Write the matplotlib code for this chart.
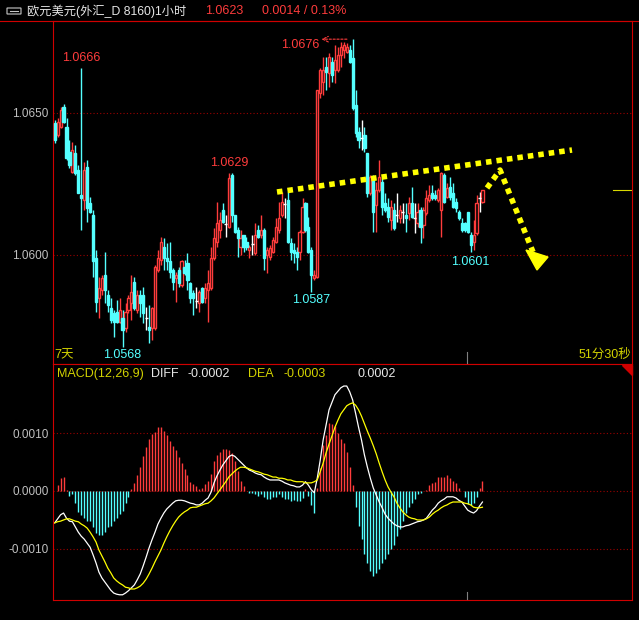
import numpy as np
import matplotlib
matplotlib.use("Agg")
import matplotlib.pyplot as plt
from matplotlib.lines import Line2D
from matplotlib.patches import Polygon, FancyBboxPatch

plt.rcParams['font.family'] = ['Liberation Sans', 'Noto Sans CJK SC', 'DejaVu Sans']

# EUR/USD 1h candles
open_ = [1.06464, 1.06423, 1.06452, 1.06522, 1.06452, 1.06364, 1.06293, 1.06358, 1.06299, 1.06211,
         1.06194, 1.06311, 1.06182, 1.06141, 1.05988, 1.05847, 1.05877, 1.05930, 1.05859, 1.05812,
         1.05795, 1.05800, 1.05765, 1.05777, 1.05742, 1.05806, 1.05830, 1.05906, 1.05806, 1.05859,
         1.05859, 1.05777, 1.05748, 1.05742, 1.05742, 1.05947, 1.05982, 1.06029, 1.05988, 1.05977,
         1.05947, 1.05918, 1.05947, 1.05894, 1.05959, 1.05971, 1.05900, 1.05865, 1.05839, 1.05830,
         1.05883, 1.05847, 1.05877, 1.05883, 1.05988, 1.06047, 1.06088, 1.06158, 1.06109, 1.06100,
         1.06282, 1.06141, 1.06088, 1.06029, 1.06070, 1.06047, 1.06018, 1.06039, 1.06006, 1.06088,
         1.06070, 1.06088, 1.06000, 1.05994, 1.06012, 1.06047, 1.06088, 1.06141, 1.06180, 1.06194,
         1.06041, 1.06018, 1.06012, 1.06012, 1.06082, 1.06182, 1.06100, 1.06018, 1.05918, 1.05924,
         1.06569, 1.06610, 1.06663, 1.06640, 1.06681, 1.06651, 1.06651, 1.06704, 1.06722, 1.06716,
         1.06722, 1.06692, 1.06528, 1.06434, 1.06411, 1.06423, 1.06358, 1.06217, 1.06270, 1.06176,
         1.06229, 1.06258, 1.06182, 1.06170, 1.06123, 1.06158, 1.06140, 1.06129, 1.06153, 1.06141,
         1.06147, 1.06182, 1.06129, 1.06112, 1.06158, 1.06106, 1.06147, 1.06194, 1.06217, 1.06211,
         1.06194, 1.06158, 1.06282, 1.06205, 1.06241, 1.06217, 1.06188, 1.06153, 1.06112, 1.06112,
         1.06153, 1.06070, 1.06047, 1.06076, 1.06200, 1.06188]
high = [1.06475, 1.06481, 1.06522, 1.06532, 1.06481, 1.06405, 1.06399, 1.06387, 1.06317, 1.06660,
        1.06329, 1.06335, 1.06205, 1.06158, 1.06018, 1.05924, 1.05930, 1.06012, 1.05877, 1.05847,
        1.05806, 1.05842, 1.05847, 1.05806, 1.05830, 1.05859, 1.05930, 1.05924, 1.05877, 1.05877,
        1.05888, 1.05818, 1.05824, 1.05818, 1.05965, 1.06018, 1.06065, 1.06059, 1.06041, 1.06047,
        1.05953, 1.05941, 1.05959, 1.05982, 1.05982, 1.06006, 1.05906, 1.05877, 1.05888, 1.05877,
        1.05888, 1.05900, 1.05947, 1.06029, 1.06094, 1.06188, 1.06153, 1.06182, 1.06141, 1.06288,
        1.06288, 1.06141, 1.06100, 1.06088, 1.06070, 1.06065, 1.06035, 1.06070, 1.06112, 1.06106,
        1.06141, 1.06094, 1.06029, 1.06035, 1.06065, 1.06129, 1.06188, 1.06223, 1.06200, 1.06223,
        1.06059, 1.06041, 1.06029, 1.06088, 1.06200, 1.06188, 1.06135, 1.06029, 1.05947, 1.06581,
        1.06657, 1.06698, 1.06698, 1.06710, 1.06698, 1.06739, 1.06734, 1.06751, 1.06751, 1.06745,
        1.06739, 1.06760, 1.06581, 1.06452, 1.06475, 1.06452, 1.06358, 1.06282, 1.06282, 1.06258,
        1.06335, 1.06270, 1.06217, 1.06200, 1.06194, 1.06182, 1.06217, 1.06176, 1.06182, 1.06182,
        1.06205, 1.06241, 1.06182, 1.06182, 1.06170, 1.06170, 1.06229, 1.06246, 1.06246, 1.06229,
        1.06235, 1.06293, 1.06288, 1.06252, 1.06276, 1.06252, 1.06200, 1.06158, 1.06129, 1.06117,
        1.06153, 1.06082, 1.06123, 1.06211, 1.06223, 1.06229]
low = [1.06395, 1.06417, 1.06446, 1.06464, 1.06335, 1.06305, 1.06288, 1.06282, 1.06217, 1.06088,
       1.06158, 1.06117, 1.06147, 1.05924, 1.05800, 1.05777, 1.05860, 1.05830, 1.05800, 1.05759,
       1.05712, 1.05759, 1.05759, 1.05677, 1.05730, 1.05795, 1.05771, 1.05806, 1.05795, 1.05783,
       1.05759, 1.05736, 1.05689, 1.05701, 1.05736, 1.05941, 1.05965, 1.05947, 1.05947, 1.05918,
       1.05877, 1.05836, 1.05888, 1.05888, 1.05930, 1.05877, 1.05830, 1.05789, 1.05812, 1.05800,
       1.05830, 1.05830, 1.05765, 1.05877, 1.05982, 1.06029, 1.06059, 1.06112, 1.06065, 1.06094,
       1.06117, 1.06076, 1.05994, 1.06000, 1.06012, 1.06018, 1.05988, 1.06000, 1.06000, 1.06059,
       1.06059, 1.05947, 1.05935, 1.05982, 1.06006, 1.06041, 1.06076, 1.06135, 1.06129, 1.06041,
       1.05982, 1.05971, 1.05947, 1.05982, 1.06076, 1.06082, 1.06006, 1.05871, 1.05912, 1.05918,
       1.06552, 1.06563, 1.06581, 1.06593, 1.06610, 1.06604, 1.06646, 1.06663, 1.06692, 1.06710,
       1.06675, 1.06511, 1.06417, 1.06376, 1.06370, 1.06364, 1.06205, 1.06211, 1.06082, 1.06082,
       1.06223, 1.06141, 1.06153, 1.06117, 1.06088, 1.06088, 1.06117, 1.06112, 1.06112, 1.06082,
       1.06123, 1.06129, 1.06076, 1.06100, 1.06041, 1.06059, 1.06141, 1.06188, 1.06194, 1.06194,
       1.06188, 1.06065, 1.06182, 1.06200, 1.06194, 1.06164, 1.06153, 1.06123, 1.06082, 1.06082,
       1.06076, 1.06012, 1.06018, 1.06070, 1.06153, 1.06182]
close = [1.06405, 1.06469, 1.06511, 1.06469, 1.06340, 1.06317, 1.06370, 1.06288, 1.06217, 1.06200,
         1.06299, 1.06164, 1.06153, 1.05977, 1.05836, 1.05883, 1.05918, 1.05877, 1.05824, 1.05771,
         1.05765, 1.05765, 1.05806, 1.05736, 1.05800, 1.05847, 1.05871, 1.05812, 1.05859, 1.05830,
         1.05795, 1.05777, 1.05736, 1.05812, 1.05959, 1.05988, 1.06047, 1.05988, 1.05977, 1.05941,
         1.05906, 1.05930, 1.05900, 1.05977, 1.05935, 1.05912, 1.05847, 1.05847, 1.05839, 1.05871,
         1.05836, 1.05883, 1.05900, 1.05988, 1.06059, 1.06112, 1.06123, 1.06117, 1.06109, 1.06270,
         1.06141, 1.06082, 1.06059, 1.06059, 1.06029, 1.06029, 1.06029, 1.06039, 1.06070, 1.06065,
         1.06088, 1.05988, 1.06018, 1.06023, 1.06053, 1.06100, 1.06129, 1.06188, 1.06180, 1.06047,
         1.06012, 1.06006, 1.05994, 1.06082, 1.06170, 1.06088, 1.06012, 1.05930, 1.05930, 1.06581,
         1.06651, 1.06651, 1.06646, 1.06698, 1.06634, 1.06687, 1.06704, 1.06734, 1.06739, 1.06734,
         1.06681, 1.06516, 1.06428, 1.06405, 1.06411, 1.06376, 1.06217, 1.06276, 1.06153, 1.06229,
         1.06276, 1.06170, 1.06158, 1.06135, 1.06170, 1.06094, 1.06140, 1.06158, 1.06153, 1.06129,
         1.06182, 1.06135, 1.06129, 1.06153, 1.06100, 1.06158, 1.06200, 1.06211, 1.06200, 1.06200,
         1.06229, 1.06287, 1.06188, 1.06235, 1.06205, 1.06170, 1.06164, 1.06129, 1.06088, 1.06088,
         1.06082, 1.06035, 1.06070, 1.06182, 1.06200, 1.06230]

# MACD(12,26,9) lines, in units of 0.0001
diff = [-5.5, -4.8, -4.1, -3.8, -4.7, -5.2, -5.3, -6.2, -7.1, -7.8, -8.3, -9.0, -9.7, -11.0, -12.4,
        -14.0, -15.0, -15.7, -16.4, -17.1, -17.6, -17.8, -17.9, -17.9, -17.6, -17.2, -16.7, -16.2,
        -15.3, -14.3, -12.9, -11.4, -9.8, -8.4, -7.1, -5.7, -4.7, -3.8, -3.1, -2.6, -2.1, -1.7, -1.6,
        -1.6, -1.7, -1.9, -2.1, -2.2, -2.4, -2.4, -2.1, -1.6, -1.2, -0.2, 1.4, 2.6, 3.6, 4.5, 5.2,
        5.9, 6.2, 6.0, 5.5, 5.0, 4.5, 4.0, 3.6, 3.4, 3.1, 2.9, 2.8, 2.4, 2.1, 1.9, 1.9, 1.9, 1.9,
        1.7, 1.4, 1.2, 1.0, 0.9, 0.7, 0.7, 1.0, 1.6, 1.0, 0.2, -0.3, 2.2, 5.3, 8.8, 11.4, 14.0,
        15.3, 16.6, 17.2, 17.8, 18.1, 18.1, 17.1, 15.7, 13.4, 11.0, 8.8, 6.2, 4.1, 2.2, 0.5, -0.7,
        -1.9, -2.9, -4.0, -4.7, -5.2, -5.7, -6.0, -6.2, -6.2, -6.0, -5.9, -5.7, -5.5, -5.3, -5.2,
        -5.0, -4.7, -4.0, -3.3, -2.8, -2.1, -1.7, -1.4, -1.0, -1.0, -1.0, -1.2, -1.6, -1.9, -2.6,
        -3.3, -3.6, -3.8, -3.4, -2.6, -1.9]
dea = [-5.5, -5.3, -5.2, -5.0, -4.8, -4.8, -5.0, -5.2, -5.3, -5.7, -6.0, -6.4, -7.1, -7.9, -8.8,
       -10.2, -11.2, -12.2, -13.3, -14.1, -15.0, -15.5, -15.9, -16.2, -16.6, -16.7, -16.9, -16.9,
       -16.7, -16.4, -15.9, -15.2, -14.3, -13.3, -12.2, -11.2, -10.2, -9.0, -7.9, -6.9, -6.0, -5.2,
       -4.5, -4.0, -3.6, -3.3, -2.9, -2.8, -2.8, -2.6, -2.4, -2.2, -2.1, -1.7, -1.2, -0.5, 0.2, 0.9,
       1.6, 2.4, 2.9, 3.4, 3.8, 4.1, 4.1, 4.0, 3.8, 3.6, 3.4, 3.3, 3.1, 2.9, 2.8, 2.6, 2.4, 2.4,
       2.2, 2.2, 2.1, 1.9, 1.9, 1.7, 1.6, 1.6, 1.6, 1.4, 1.4, 1.4, 1.6, 1.9, 3.3, 4.8, 6.6, 8.1,
       9.5, 11.0, 12.2, 13.3, 14.0, 14.7, 15.0, 15.2, 14.8, 14.0, 12.9, 11.6, 10.3, 9.1, 7.8, 6.4,
       4.8, 3.3, 1.9, 0.7, -0.2, -1.0, -2.1, -2.9, -3.6, -4.1, -4.5, -4.7, -4.8, -5.0, -5.0, -5.0,
       -4.8, -4.5, -4.0, -3.6, -3.3, -2.9, -2.6, -2.4, -2.1, -1.9, -1.9, -1.9, -1.9, -2.1, -2.2,
       -2.4, -2.8, -2.9, -2.9, -2.8]

RED = '#ff3c3c'
CYAN = '#54ffff'
FRAME = '#d00000'
GRID = '#9a0000'
YEL = '#ffff00'
TXTY = '#d2d200'
GRAY = '#c0c0c0'

W, H = 639, 620
def fx(px):
    return px / W
def fy(py):
    return 1 - py / H

o = np.array(open_)
h = np.array(high)
l = np.array(low)
c = np.array(close)
x = np.arange(len(c))
dif = np.array(diff) * 1e-4
de = np.array(dea) * 1e-4
bar = 2 * (dif - de)

fig = plt.figure(figsize=(W / 100, H / 100), dpi=100, facecolor='black')
ax = fig.add_axes([fx(53), fy(364), fx(632) - fx(53), fy(21) - fy(364)], facecolor='black')
ax2 = fig.add_axes([fx(53), fy(600), fx(632) - fx(53), fy(364) - fy(600)], facecolor='black')

x0 = -1.7 / 2.95
for a in (ax, ax2):
    a.set_xlim(x0, x0 + 579 / 2.95)
    a.set_xticks([])
    for s in a.spines.values():
        s.set_color(FRAME)
        s.set_linewidth(0.8)
    a.tick_params(axis='y', length=0, pad=3, colors=GRAY, labelsize=8.5)

ax.set_ylim(1.05616, 1.06824)
ax.set_yticks([1.065, 1.060], ['1.0650', '1.0600'])
ax2.set_ylim(-0.00188, 0.00219)
ax2.set_yticks([0.001, 0.0, -0.001], ['0.0010', '0.0000', '-0.0010'])
for a, lv in ((ax, [1.065, 1.060]), (ax2, [0.001, 0.0, -0.001])):
    for v in lv:
        a.axhline(v, color=GRID, lw=0.8, ls=(0, (1, 2)), zorder=0)

# candles
up = c > o
dn = c < o
eq = c == o
lw = 1.0
ax.vlines(x[up], l[up], h[up], color=RED, lw=lw, zorder=2)
ax.bar(x[up], c[up] - o[up], bottom=o[up], width=0.72, facecolor='black',
       edgecolor=RED, linewidth=lw, zorder=3)
ax.vlines(x[dn], l[dn], h[dn], color=CYAN, lw=lw, zorder=2)
ax.bar(x[dn], c[dn] - o[dn], bottom=o[dn], width=0.72, facecolor=CYAN,
       edgecolor=CYAN, linewidth=lw, zorder=3)
ax.vlines(x[eq], l[eq], h[eq], color='white', lw=lw, zorder=2)
ax.hlines(c[eq], x[eq] - 0.5, x[eq] + 0.5, color='white', lw=lw, zorder=3)

# high / low marks
ih = int(np.argmax(h))
ax.annotate('', xy=(ih - 11.5, h[ih]), xytext=(ih - 1, h[ih]),
            arrowprops=dict(arrowstyle='->', color=RED, lw=0.8, ls=(0, (2, 1.5))))
labels = [(62, 58, '1.0666', RED), (210, 163, '1.0629', RED), (281, 45, '1.0676', RED),
          (292, 300, '1.0587', CYAN), (451, 262, '1.0601', CYAN), (103, 355, '1.0568', CYAN)]
for px, py, t, col in labels:
    fig.text(fx(px), fy(py), t, color=col, fontsize=9, va='center', ha='left')
fig.text(fx(54), fy(355), '7天', color=TXTY, fontsize=9, va='center', ha='left')
fig.text(fx(631), fy(355), '51分30秒', color=TXTY, fontsize=9, va='center', ha='right')

# current price marker
ax.plot([0.967, 1.0], [c[-1], c[-1]], color='#d8d800', lw=0.8,
        transform=ax.get_yaxis_transform(), clip_on=False)

# hand-drawn trend line and arrow
fig.add_artist(Line2D([fx(277), fx(572)], [fy(192), fy(150)], color=YEL, lw=4,
                      ls=(0, (1.0, 0.9)), solid_capstyle='butt'))
fig.add_artist(Line2D([fx(487), fx(500), fx(533)], [fy(188), fy(170), fy(252)], color=YEL,
                      lw=4, ls=(0, (1.0, 0.9))))
fig.add_artist(Polygon([(fx(526), fy(250)), (fx(548), fy(257)), (fx(537), fy(270))],
                       closed=True, color=YEL))

# MACD panel
pos = bar >= 0
ax2.vlines(x[pos], 0, bar[pos], color=RED, lw=lw)
ax2.vlines(x[~pos], 0, bar[~pos], color=CYAN, lw=lw)
ax2.plot(x, dif, color='white', lw=0.9)
ax2.plot(x, de, color=YEL, lw=0.9)

hy = 374
for px, t, col in [(57, 'MACD(12,26,9)', TXTY), (151, 'DIFF', '#e8e8e8'),
                   (187, '%.4f' % dif[-1], '#e8e8e8'), (248, 'DEA', TXTY),
                   (283, '%.4f' % de[-1], TXTY), (357, '%.4f' % bar[-1], '#e8e8e8')]:
    fig.text(fx(px), fy(hy), t, color=col, fontsize=9, va='center', ha='left')

# title bar
fig.add_artist(Line2D([0, 1], [fy(21), fy(21)], color=FRAME, lw=0.8))
fig.add_artist(FancyBboxPatch((fx(7), fy(14)), fx(14), fy(8) - fy(14),
                              boxstyle='round,pad=0', fill=False, ec='#c8c8c8', lw=0.8))
fig.add_artist(Line2D([fx(10), fx(18)], [fy(11), fy(11)], color='#c8c8c8', lw=0.8))
fig.text(fx(27), fy(11), '欧元美元(外汇_D 8160)1小时', color='#e6e6e6', fontsize=8.8,
         va='center', ha='left')
fig.text(fx(205), fy(11), '1.0623', color=RED, fontsize=9, va='center', ha='left')
fig.text(fx(262), fy(11), '0.0014 / 0.13%', color=RED, fontsize=9, va='center', ha='left')

# small markers
fig.add_artist(Polygon([(fx(622), fy(365)), (fx(632), fy(365)), (fx(632), fy(375))],
                       closed=True, color=FRAME))
fig.add_artist(Line2D([fx(467), fx(467)], [fy(352), fy(363)], color='#808080', lw=0.8))
fig.add_artist(Line2D([fx(467), fx(467)], [fy(592), fy(599)], color='#808080', lw=0.8))

fig.savefig('out.png', dpi=100, facecolor='black')
